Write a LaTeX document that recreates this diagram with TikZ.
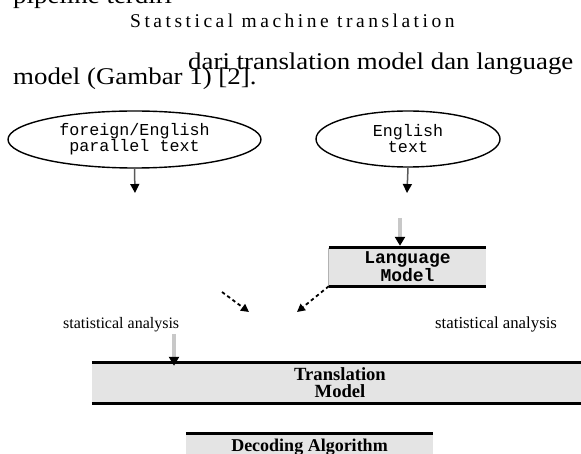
\documentclass[tikz,border=0pt]{standalone}
\usepackage{fontspec}
\setmainfont{Liberation Serif}
\setmonofont{Liberation Mono}
\usetikzlibrary{positioning}
\usetikzlibrary{shapes.geometric}
\usetikzlibrary{arrows.meta}
\usepackage{xcolor}

\definecolor{boxgray}{RGB}{228,228,228}
\definecolor{shaftgray}{RGB}{200,200,200}

\tikzset{
  bodytext/.style={inner sep=0pt, anchor=base west, font=\fontsize{24}{24}\selectfont},
  sourceell/.style={ellipse, draw=black, line width=1.4pt, inner sep=0pt, align=center,
    font=\ttfamily\fontsize{16.7}{16}\selectfont},
  modelbox/.style={fill=boxgray, inner sep=0pt, align=center},
  edgeline/.style={black, line width=3pt},
  solidarr/.style={draw=gray!70!black, line width=1.5pt, -{Triangle[length=9pt,width=9pt,color=black]}},
  grayarr/.style={draw=shaftgray, line width=4pt, -{Triangle[length=9pt,width=10pt,color=black]}},
  dasharr/.style={black, line width=1.8pt, dash pattern=on 3.5pt off 3pt, -{Triangle[length=8pt,width=8pt]}},
  analysis/.style={inner sep=0pt, anchor=base west}
}

\begin{document}
\begin{tikzpicture}[x=1pt, y=-1pt]

\useasboundingbox (0,0) rectangle (581,454);

% running text above the figure
\node[bodytext] (pipe) at (13,3.5) {\scalebox{1.12}[1]{pipeline terdiri}};
\node[inner sep=0pt, anchor=base west] (smt) at (130,28)
  {\fontsize{19.5}{19}\selectfont\addfontfeature{LetterSpace=18}Statstical machine translation};
\node[bodytext] (dari) at (188,69.5) {\scalebox{1.12}[1]{dari translation model dan language}};
\node[bodytext] (gambar) at (13,85) {\scalebox{1.12}[1]{model (Gambar 1) [2].}};

% sources
\node[sourceell, minimum width=253, minimum height=57] (parallel) at (134.5,139.5)
  {foreign/English\\parallel text};
\node[sourceell, minimum width=184, minimum height=56] (english) at (408,139)
  {English\\text};

\coordinate (parend) at (135,193);
\coordinate (engend) at (407,193);
\draw[solidarr] (parallel.south) -- (parend);
\draw[solidarr] (english.south) -- (engend);

% language model
\node[modelbox, minimum width=157, minimum height=38,
  font=\ttfamily\bfseries\fontsize{18}{15}\selectfont] (langmodel) at (407.5,267) {Language\\Model};
\draw[edgeline] (langmodel.north west) -- (langmodel.north east);
\draw[edgeline] (langmodel.south west) -- (langmodel.south east);
\draw[gray!60, line width=0.8pt] (langmodel.north west) -- (langmodel.south west);

\coordinate (langin) at (400,218);
\draw[grayarr] (langin) -- ([yshift=2pt]langin |- langmodel.north);

% dashed arrows towards the middle
\coordinate (dashstart) at (222,292);
\coordinate (dashend) at (249,312);
\coordinate (langend) at (297,312);
\draw[dasharr] (dashstart) -- (dashend);
\draw[dasharr] (langmodel.south west) -- (langend);

% statistical analysis labels
\node[analysis, font=\fontsize{16}{16}\selectfont] (saleft) at (63,328) {statistical analysis};
\node[analysis, font=\fontsize{16.8}{16}\selectfont] (saright) at (435,328) {statistical analysis};

% translation model
\node[modelbox, minimum width=496, minimum height=40,
  font=\bfseries\fontsize{18.6}{17}\selectfont] (transmodel) at (340,383) {Translation\\Model};
\draw[edgeline] (transmodel.north west) -- (transmodel.north east);
\draw[edgeline] (transmodel.south west) -- (transmodel.south east);

\coordinate (transin) at (174,334);
\draw[grayarr] (transin) -- ([yshift=-3pt]transin |- transmodel.north);

% decoding algorithm
\node[modelbox, minimum width=247, minimum height=26,
  font=\bfseries\fontsize{18}{18}\selectfont] (decoding) at (309.5,447) {Decoding Algorithm};
\draw[edgeline] (decoding.north west) -- (decoding.north east);

\end{tikzpicture}
\end{document}
